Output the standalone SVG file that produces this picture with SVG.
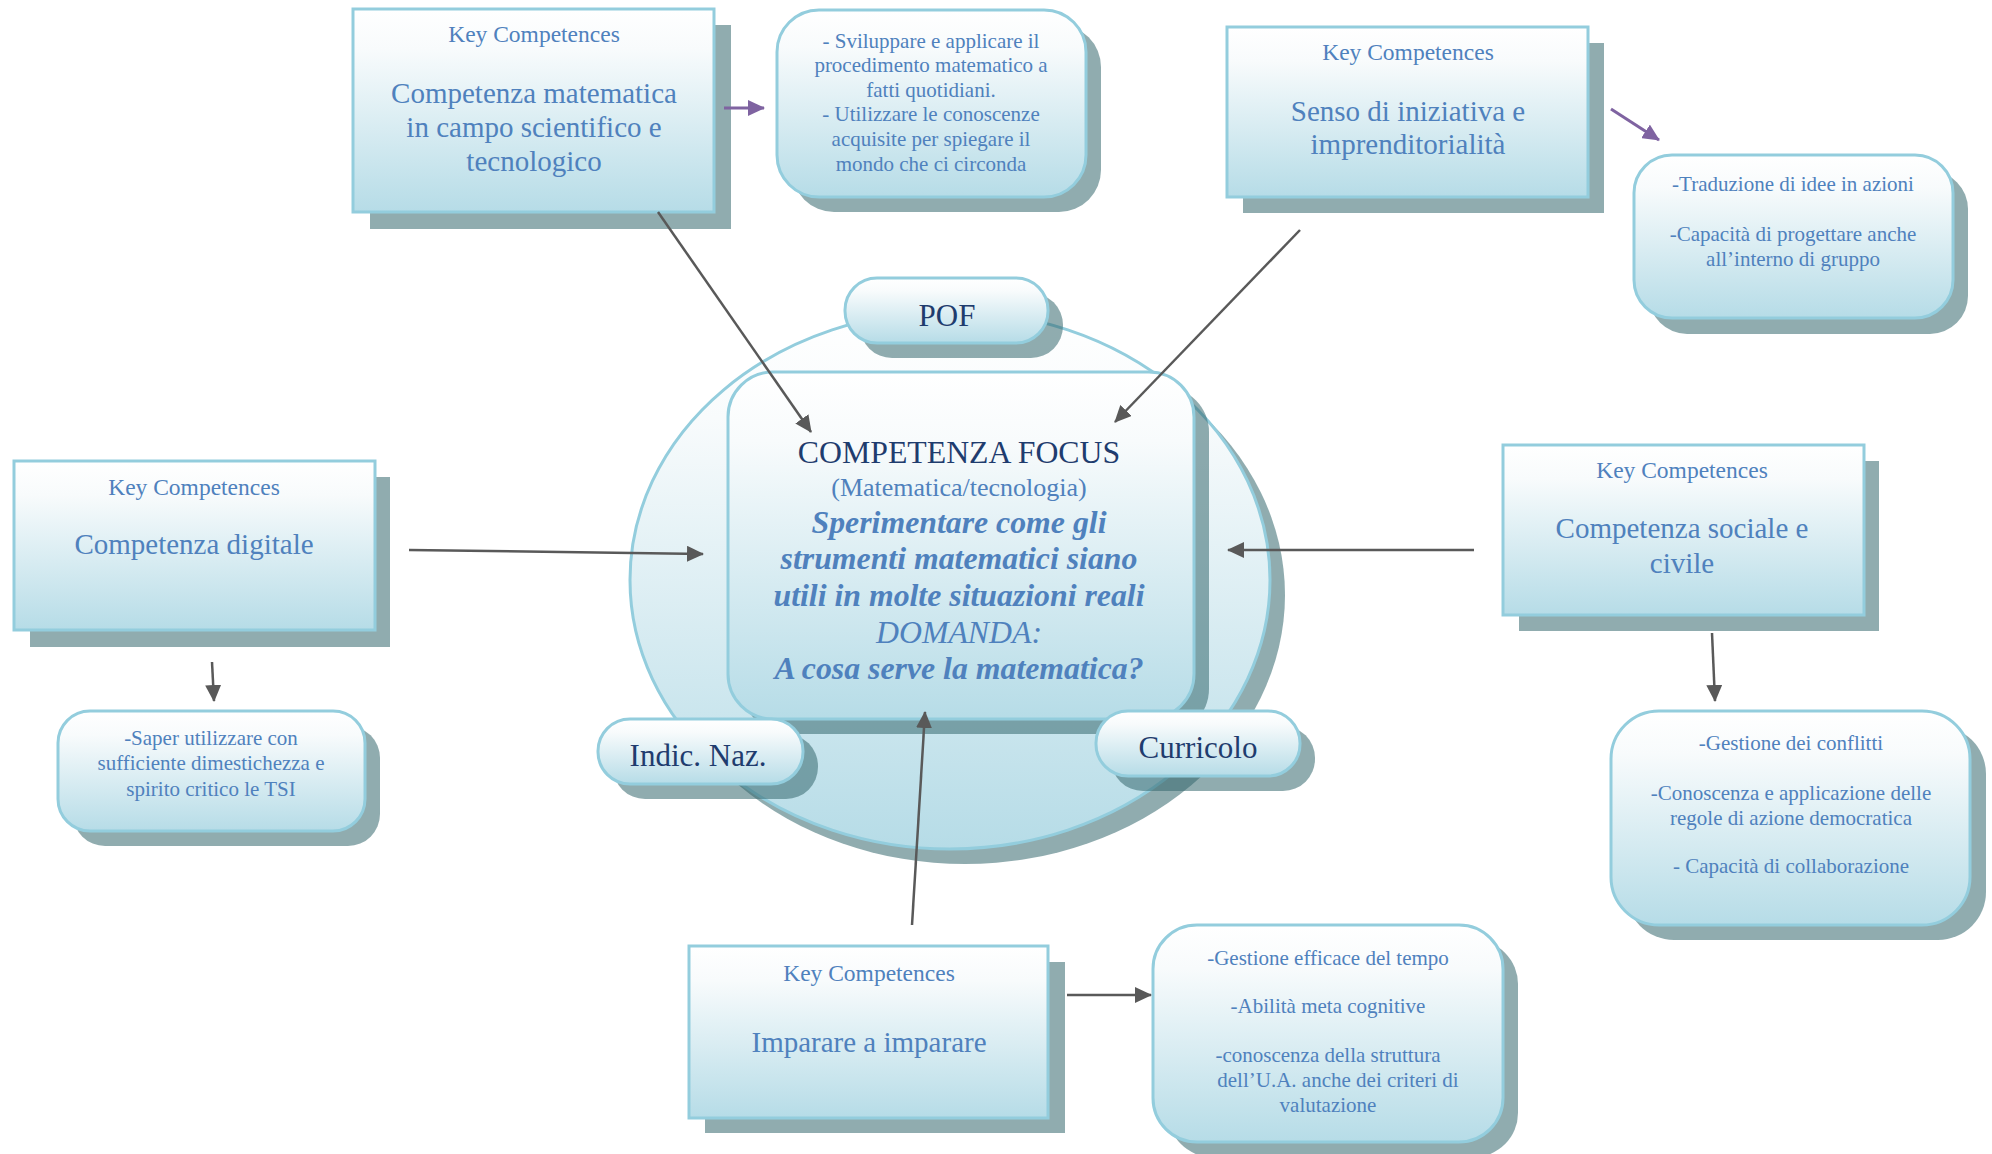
<svg xmlns="http://www.w3.org/2000/svg" width="1992" height="1154" viewBox="0 0 1992 1154">
<defs>
<linearGradient id="g" x1="0" y1="0" x2="0" y2="1">
<stop offset="0" stop-color="#FFFFFF"/>
<stop offset="0.2" stop-color="#F8FBFC"/>
<stop offset="1" stop-color="#B6DCE7"/>
</linearGradient>
<marker id="ag" markerUnits="userSpaceOnUse" markerWidth="18" markerHeight="16" refX="16" refY="8" orient="auto">
<path d="M0,0 L17,8 L0,16 z" fill="#595959"/>
</marker>
<marker id="ap" markerUnits="userSpaceOnUse" markerWidth="18" markerHeight="16" refX="16" refY="8" orient="auto">
<path d="M0,0 L17,8 L0,16 z" fill="#7F63A1"/>
</marker>
<style>
.sh{fill:#35686E;fill-opacity:0.55}
.bx{fill:url(#g);stroke:#93CDDD;stroke-width:3}
.t{font-family:"Liberation Serif","Times New Roman",serif;text-anchor:middle;fill:#4F81BD}
.k{font-size:23.5px}
.h{font-size:29px}
.d{font-size:21px}
.n{fill:#1F3C6E}
.f{font-size:31.8px;font-style:italic}
.cg{stroke:#595959;stroke-width:2.5;fill:none;marker-end:url(#ag)}
.cp{stroke:#7F63A1;stroke-width:3;fill:none;marker-end:url(#ap)}
</style>
</defs>

<g id="centro">
<ellipse class="sh" cx="965" cy="595" rx="320" ry="269"/>
<ellipse class="bx" cx="950" cy="580" rx="320" ry="269"/>
</g>

<g id="focus">
<rect class="sh" x="743" y="387" width="466" height="347" rx="45"/>
<rect class="bx" x="728" y="372" width="466" height="347" rx="45"/>
<text class="t n" x="959" y="463" font-size="31.8">COMPETENZA FOCUS</text>
<text class="t" x="959" y="496" font-size="26">(Matematica/tecnologia)</text>
<text class="t f" x="959" y="533" font-weight="bold">Sperimentare come gli</text>
<text class="t f" x="959" y="569" font-weight="bold">strumenti matematici siano</text>
<text class="t f" x="959" y="606" font-weight="bold">utili in molte situazioni reali</text>
<text class="t f" x="959" y="643">DOMANDA:</text>
<text class="t f" x="959" y="679" font-weight="bold">A cosa serve la matematica?</text>
</g>

<g id="pof">
<rect class="sh" x="860" y="293" width="203" height="65" rx="32"/>
<rect class="bx" x="845" y="278" width="203" height="65" rx="32"/>
<text class="t n" x="947" y="326" font-size="31">POF</text>
</g>

<g id="indic">
<rect class="sh" x="613" y="734" width="205" height="65" rx="32"/>
<rect class="bx" x="598" y="719" width="205" height="65" rx="32"/>
<text class="t n" x="698" y="766" font-size="31">Indic. Naz.</text>
</g>

<g id="curricolo">
<rect class="sh" x="1111" y="726" width="204" height="65" rx="32"/>
<rect class="bx" x="1096" y="711" width="204" height="65" rx="32"/>
<text class="t n" x="1198" y="758" font-size="31">Curricolo</text>
</g>

<g id="matematica">
<rect class="sh" x="370" y="25" width="361" height="204"/>
<rect class="bx" x="353" y="9" width="361" height="203"/>
<text class="t k" x="534" y="42">Key Competences</text>
<text class="t h" x="534" y="103">Competenza matematica</text>
<text class="t h" x="534" y="137">in campo scientifico e</text>
<text class="t h" x="534" y="171">tecnologico</text>
</g>

<g id="matematica-dettaglio">
<rect class="sh" x="792" y="25" width="309" height="187" rx="42"/>
<rect class="bx" x="777" y="10" width="309" height="187" rx="42"/>
<text class="t d" x="931" y="48">- Sviluppare e applicare  il</text>
<text class="t d" x="931" y="72">procedimento matematico a</text>
<text class="t d" x="931" y="97">fatti quotidiani.</text>
<text class="t d" x="931" y="121">- Utilizzare le conoscenze</text>
<text class="t d" x="931" y="146">acquisite per spiegare il</text>
<text class="t d" x="931" y="171">mondo che ci circonda</text>
</g>

<g id="senso">
<rect class="sh" x="1243" y="43" width="361" height="170"/>
<rect class="bx" x="1227" y="27" width="361" height="170"/>
<text class="t k" x="1408" y="60">Key Competences</text>
<text class="t h" x="1408" y="121">Senso di iniziativa e</text>
<text class="t h" x="1408" y="154">imprenditorialità</text>
</g>

<g id="senso-dettaglio">
<rect class="sh" x="1649" y="171" width="319" height="163" rx="38"/>
<rect class="bx" x="1634" y="155" width="319" height="163" rx="38"/>
<text class="t d" x="1793" y="191">-Traduzione di idee in azioni</text>
<text class="t d" x="1793" y="241">-Capacità di progettare anche</text>
<text class="t d" x="1793" y="266">all’interno di gruppo</text>
</g>

<g id="digitale">
<rect class="sh" x="30" y="477" width="360" height="170"/>
<rect class="bx" x="14" y="461" width="361" height="169"/>
<text class="t k" x="194" y="495">Key Competences</text>
<text class="t h" x="194" y="554">Competenza digitale</text>
</g>

<g id="digitale-dettaglio">
<rect class="sh" x="73" y="726" width="307" height="120" rx="32"/>
<rect class="bx" x="58" y="711" width="307" height="120" rx="32"/>
<text class="t d" x="211" y="745">-Saper utilizzare con</text>
<text class="t d" x="211" y="770">sufficiente dimestichezza e</text>
<text class="t d" x="211" y="796">spirito critico le TSI</text>
</g>

<g id="sociale">
<rect class="sh" x="1519" y="461" width="360" height="170"/>
<rect class="bx" x="1503" y="445" width="361" height="170"/>
<text class="t k" x="1682" y="478">Key Competences</text>
<text class="t h" x="1682" y="538">Competenza sociale e</text>
<text class="t h" x="1682" y="573">civile</text>
</g>

<g id="sociale-dettaglio">
<rect class="sh" x="1626" y="726" width="360" height="214" rx="48"/>
<rect class="bx" x="1611" y="711" width="359" height="214" rx="48"/>
<text class="t d" x="1791" y="750">-Gestione dei conflitti</text>
<text class="t d" x="1791" y="800">-Conoscenza e applicazione delle</text>
<text class="t d" x="1791" y="825">regole di azione democratica</text>
<text class="t d" x="1791" y="873">- Capacità di collaborazione</text>
</g>

<g id="imparare">
<rect class="sh" x="705" y="962" width="360" height="171"/>
<rect class="bx" x="689" y="946" width="359" height="172"/>
<text class="t k" x="869" y="981">Key Competences</text>
<text class="t h" x="869" y="1052">Imparare a imparare</text>
</g>

<g id="imparare-dettaglio">
<rect class="sh" x="1168" y="940" width="350" height="217" rx="44"/>
<rect class="bx" x="1153" y="925" width="350" height="217" rx="44"/>
<text class="t d" x="1328" y="965">-Gestione efficace del tempo</text>
<text class="t d" x="1328" y="1013">-Abilità meta cognitive</text>
<text class="t d" x="1328" y="1062">-conoscenza della struttura</text>
<text class="t d" x="1338" y="1087">dell’U.A. anche dei criteri di</text>
<text class="t d" x="1328" y="1112">valutazione</text>
</g>

<g id="connettori">
<line class="cp" x1="724" y1="108" x2="764" y2="108"/>
<line class="cp" x1="1611" y1="109" x2="1659" y2="140"/>
<line class="cg" x1="658" y1="212" x2="811" y2="432"/>
<line class="cg" x1="1300" y1="230" x2="1115" y2="422"/>
<line class="cg" x1="409" y1="550" x2="703" y2="554"/>
<line class="cg" x1="1474" y1="550" x2="1228" y2="550"/>
<line class="cg" x1="212" y1="662" x2="214" y2="701"/>
<line class="cg" x1="1712" y1="633" x2="1715" y2="701"/>
<line class="cg" x1="912" y1="925" x2="925" y2="712"/>
<line class="cg" x1="1067" y1="995" x2="1151" y2="995"/>
</g>
</svg>
